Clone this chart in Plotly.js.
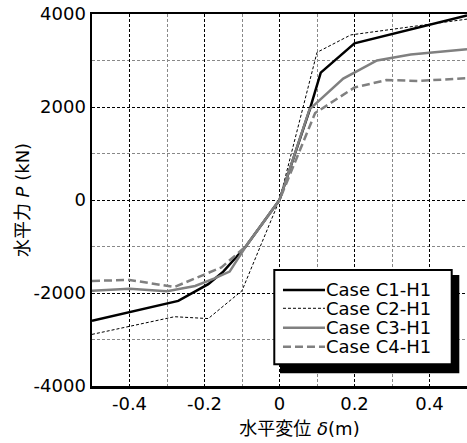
<!DOCTYPE html>
<html>
<head>
<meta charset="utf-8">
<script src="https://cdn.plot.ly/plotly-3.0.1.min.js"></script>
<style>html,body{margin:0;padding:0;background:#fff;}#chart{width:467px;height:443px;}</style>
</head>
<body>
<div id="chart"></div>
<script>
// Case C1-H1
const c1x = [-0.5, -0.27, -0.19, -0.15, -0.09, 0, 0.08, 0.11, 0.2, 0.5];
const c1y = [-2600, -2170, -1810, -1540, -1000, 0, 1930, 2740, 3370, 3970];
// Case C2-H1
const c2x = [-0.5, -0.28, -0.19, -0.1, 0, 0.1, 0.19, 0.5];
const c2y = [-2890, -2510, -2550, -1950, 0, 3175, 3550, 3890];
// Case C3-H1
const c3x = [-0.5, -0.4, -0.3, -0.225, -0.175, -0.133, -0.09, 0, 0.08, 0.17, 0.26, 0.35, 0.5];
const c3y = [-1950, -1910, -1960, -1850, -1690, -1540, -1000, 0, 1950, 2610, 3000, 3130, 3240];
// Case C4-H1
const c4x = [-0.5, -0.4, -0.28, -0.2, -0.155, -0.09, 0, 0.095, 0.2, 0.285, 0.37, 0.5];
const c4y = [-1740, -1720, -1870, -1610, -1450, -1000, 0, 1870, 2420, 2580, 2560, 2620];

const names = ['Case C1-H1', 'Case C2-H1', 'Case C3-H1', 'Case C4-H1'];
const xTickVals = [-0.4, -0.2, 0, 0.2, 0.4];
const xTickText = ['-0.4', '-0.2', '0', '0.2', '0.4'];
const yTickVals = [-4000, -2000, 0, 2000, 4000];
const yTickText = ['-4000', '-2000', '0', '2000', '4000'];

const lineStyles = [
  {color: '#000', width: 2.5},
  {color: '#000', width: 1, dash: '3px,2px'},
  {color: '#808080', width: 2.5},
  {color: '#808080', width: 2.5, dash: '8px,4px'}
];
const xs = [c1x, c2x, c3x, c4x];
const ys = [c1y, c2y, c3y, c4y];

const traces = names.map((n, i) => ({
  x: xs[i], y: ys[i], name: n, mode: 'lines', line: lineStyles[i], showlegend: false
}));

const font = 'DejaVu Sans, Noto Sans CJK JP, sans-serif';
const axisCommon = {
  showline: true, mirror: true, linecolor: '#000', linewidth: 2.5,
  ticks: '', zeroline: false,
  showgrid: true, gridcolor: '#000', gridwidth: 1, griddash: '3px,2px',
  tickfont: {family: font, size: 18, color: '#000'},
  tickmode: 'array'
};

// Legend drawn as a boxed key with a drop shadow (paper coordinates)
const legBox = {x0: 0.4861, x1: 0.9592, y0: 0.0583, y1: 0.3118};
const legShadow = {x0: 0.5013, x1: 0.9795, y0: 0.0341, y1: 0.2984};
const legRowY = [0.2581, 0.2089, 0.1567, 0.1056];
const legSampleX = [0.5093, 0.6213];

const shapes = [
  Object.assign({type: 'rect', xref: 'paper', yref: 'paper', layer: 'above',
    fillcolor: '#000', line: {width: 0}}, legShadow),
  Object.assign({type: 'rect', xref: 'paper', yref: 'paper', layer: 'above',
    fillcolor: '#fff', line: {color: '#000', width: 2}}, legBox)
];
const annotations = [];
names.forEach((n, i) => {
  shapes.push({type: 'line', xref: 'paper', yref: 'paper', layer: 'above',
    x0: legSampleX[0], x1: legSampleX[1], y0: legRowY[i], y1: legRowY[i], line: lineStyles[i]});
  annotations.push({xref: 'paper', yref: 'paper', x: legSampleX[1], y: legRowY[i],
    xanchor: 'left', yanchor: 'middle', showarrow: false, text: n, xshift: -1,
    font: {family: font, size: 18, color: '#000'}});
});

const layout = {
  width: 467, height: 443,
  margin: {l: 92, r: 0, t: 14, b: 57},
  paper_bgcolor: '#fff', plot_bgcolor: '#fff',
  font: {family: font, color: '#000'},
  showlegend: false,
  xaxis: Object.assign({}, axisCommon, {
    range: [-0.5, 0.5], tickvals: xTickVals, ticktext: xTickText,
    minor: {tickmode: 'linear', tick0: 0, dtick: 0.1, showgrid: true, gridcolor: '#888', gridwidth: 1, griddash: '3px,2px', ticks: ''},
    title: {text: '&nbsp;&nbsp;&nbsp;&nbsp;&nbsp;&nbsp;&nbsp;水平変位 <i>δ</i>(m)', font: {family: font, size: 18, color: '#000'}, standoff: 10}
  }),
  yaxis: Object.assign({}, axisCommon, {
    range: [-4000, 4000], tickvals: yTickVals, ticktext: yTickText,
    minor: {tickmode: 'linear', tick0: 0, dtick: 1000, showgrid: true, gridcolor: '#888', gridwidth: 1, griddash: '3px,2px', ticks: ''},
    title: {text: '水平力 <i>P</i> (kN)', font: {family: font, size: 18, color: '#000'}, standoff: 0}
  }),
  shapes: shapes,
  annotations: annotations
};

Plotly.newPlot('chart', traces, layout, {displayModeBar: false, staticPlot: true});
</script>
</body>
</html>
